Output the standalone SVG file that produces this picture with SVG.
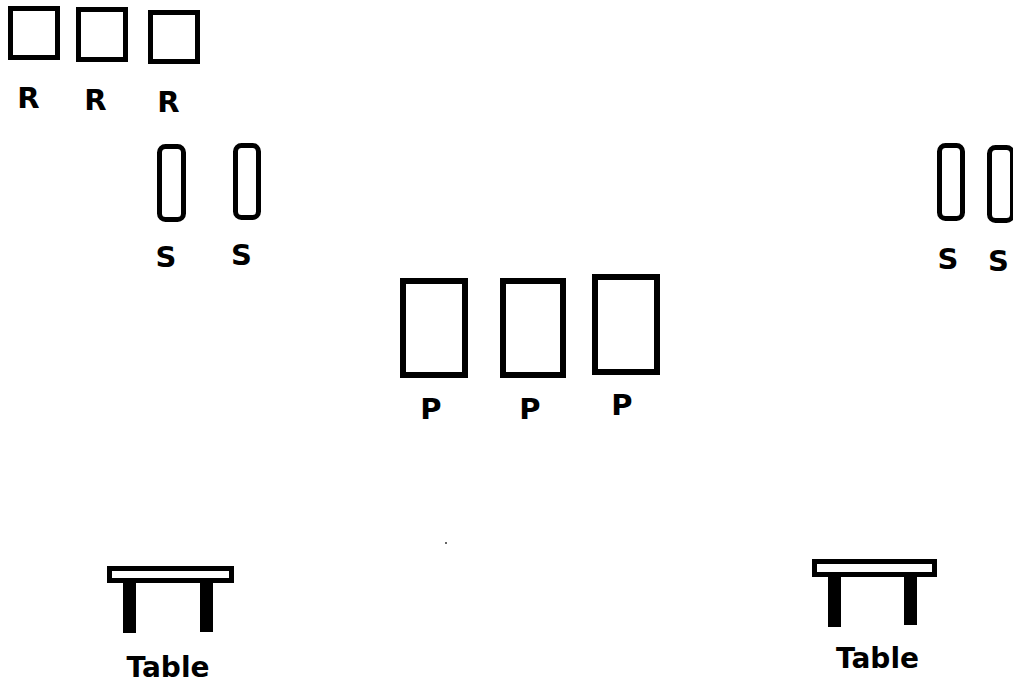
<svg xmlns="http://www.w3.org/2000/svg" width="1013" height="683" viewBox="0 0 1013 683">
<style>
.box{fill:#fff;stroke:#000;stroke-width:5}
.pbox{fill:#fff;stroke:#000;stroke-width:6}
.leg{fill:#000}
.lbl{font-family:"DejaVu Sans",Verdana,sans-serif;font-weight:bold;font-size:29px;fill:#000;text-anchor:middle}
.tlbl{font-size:28px}
</style>
<rect width="1013" height="683" fill="#fff"/>
<g id="r1"><rect class="box" x="10.5" y="8.5" width="47" height="49"/><text class="lbl" x="28.5" y="108">R</text></g>
<g id="r2"><rect class="box" x="78.5" y="9.5" width="47" height="50"/><text class="lbl" x="95.5" y="110">R</text></g>
<g id="r3"><rect class="box" x="150.5" y="12.5" width="47" height="49"/><text class="lbl" x="168.5" y="112">R</text></g>
<g id="s1"><rect class="box" x="159.5" y="146.5" width="24" height="73" rx="6"/><text class="lbl" x="166" y="267">S</text></g>
<g id="s2"><rect class="box" x="235.5" y="145.5" width="23" height="72" rx="6"/><text class="lbl" x="241.5" y="265">S</text></g>
<g id="s3"><rect class="box" x="939.5" y="145.5" width="23" height="73" rx="6"/><text class="lbl" x="948" y="269">S</text></g>
<g id="s4"><rect class="box" x="989.5" y="147.5" width="23" height="73" rx="6"/><text class="lbl" x="998.5" y="271">S</text></g>
<g id="p1"><rect class="pbox" x="403" y="281" width="62" height="94"/><text class="lbl" x="431" y="419">P</text></g>
<g id="p2"><rect class="pbox" x="503" y="281" width="60" height="94"/><text class="lbl" x="530" y="419">P</text></g>
<g id="p3"><rect class="pbox" x="595" y="277" width="62" height="95"/><text class="lbl" x="622" y="415">P</text></g>
<g id="table1"><rect class="box" x="109.5" y="568.5" width="122" height="12"/><rect class="leg" x="123" y="581" width="13" height="52"/><rect class="leg" x="200" y="581" width="13" height="51"/><text class="lbl tlbl" x="168" y="677">Table</text></g>
<g id="table2"><rect class="box" x="814.5" y="561.5" width="120" height="13"/><rect class="leg" x="828" y="575" width="13" height="52"/><rect class="leg" x="904" y="575" width="13" height="50"/><text class="lbl tlbl" x="877.5" y="668">Table</text></g>
<g id="connectors"></g>
<rect x="445" y="542" width="2" height="2" fill="#666"/>
</svg>
